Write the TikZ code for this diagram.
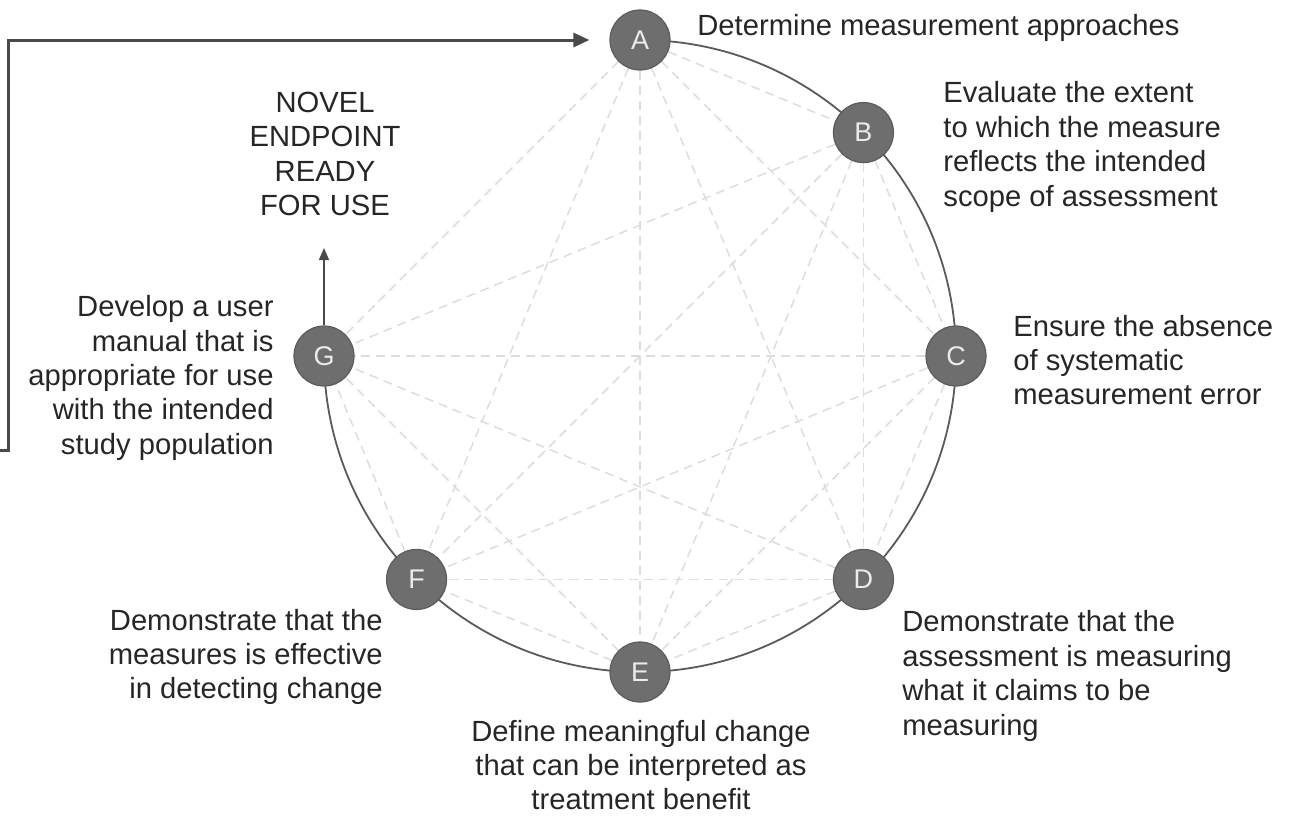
\documentclass[tikz,border=0pt]{standalone}
\usepackage{fontspec}
\setmainfont{Liberation Sans}
\usetikzlibrary{arrows.meta,backgrounds}
\definecolor{nodegray}{HTML}{6E6E6E}
\definecolor{nodeedge}{HTML}{5C5C5C}
\definecolor{ringgray}{HTML}{5A5A5A}
\definecolor{chordgray}{HTML}{DDDDDD}
\definecolor{txtgray}{HTML}{262626}
\definecolor{feedgray}{HTML}{4A4A4A}
\tikzset{
  stepnode/.style={circle, fill=nodegray, draw=nodeedge, line width=0.6pt,
    minimum size=30pt, inner sep=0pt, text=white!92!black,
    font=\fontsize{13.5}{13.5}\selectfont},
  chord/.style={draw=chordgray, line width=0.75pt, dash pattern=on 4.5pt off 3pt},
  ring/.style={draw=ringgray, line width=0.9pt},
  feed/.style={draw=feedgray, line width=1.5pt, -{Triangle[length=8pt,width=7pt]}},
  upline/.style={draw=feedgray, line width=0.8pt, -{Triangle[length=6pt,width=5pt]}},
  lab/.style={text=txtgray, inner sep=0pt, font=\fontsize{14.6}{17.2}\selectfont},
}
\begin{document}
\begin{tikzpicture}[x=0.5pt,y=-0.5pt]
\useasboundingbox (0,0) rectangle (1299,815);
\coordinate (O) at (640,356);
\foreach \n/\a in {A/-90,B/-45,C/0,D/45,E/90,F/135,G/180}{
  \path (O) ++(\a:316) node[stepnode] (\n) {\n};
}
\begin{pgfonlayer}{background}
  \foreach \x/\y in {A/B,A/C,A/D,A/E,A/F,A/G,B/C,B/D,B/E,B/F,B/G,C/D,C/E,C/F,C/G,D/E,D/F,D/G,E/F,E/G,F/G}{
    \draw[chord] (\x) -- (\y);
  }
  \draw[ring] (A.center) arc[start angle=-90, end angle=180, radius=316];
\end{pgfonlayer}
% feedback arrow
\coordinate (start) at (0,450);
\coordinate (corner) at (8,450);
\draw[feed, shorten >=10pt] (start) -- (corner) |- (A);
% arrow from G
\coordinate (gtip) at (324,248);
\draw[upline] (G) -- (gtip);
% labels
\node[lab, anchor=west] (tA) at (697,28) {Determine measurement approaches};
\node[lab, anchor=west, align=left] (tB) at (943,147) {Evaluate the extent\\to which the measure\\reflects the intended\\scope of assessment};
\node[lab, anchor=west, align=left] (tC) at (1013,360) {Ensure the absence\\of systematic\\measurement error};
\node[lab, anchor=west, align=left] (tD) at (902,676) {Demonstrate that the\\assessment is measuring\\what it claims to be\\measuring};
\node[lab, align=center] (tE) at (641,765) {Define meaningful change\\that can be interpreted as\\treatment benefit};
\node[lab, anchor=east, align=right] (tF) at (383,657) {Demonstrate that the\\measures is effective\\in detecting change};
\node[lab, anchor=east, align=right] (tG) at (274,378) {Develop a user\\manual that is\\appropriate for use\\with the intended\\study population};
\node[lab, align=center] (tN) at (325,154) {NOVEL\\ENDPOINT\\READY\\FOR USE};
\end{tikzpicture}
\end{document}
